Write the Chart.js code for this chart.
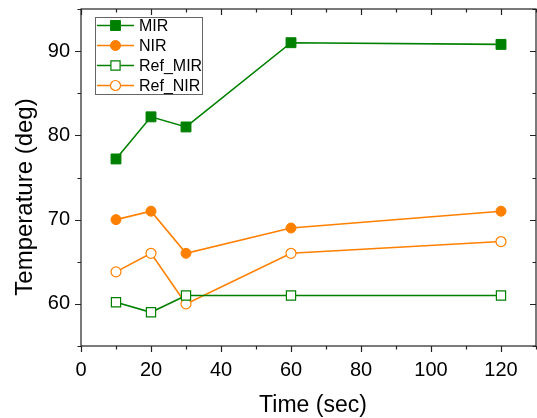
<!doctype html>
<html><head><meta charset="utf-8"/>
<script src="https://cdn.jsdelivr.net/npm/chart.js@4"></script>
<style>
  html,body{margin:0;padding:0;background:#fff;}
  #wrap{width:537px;height:418px;position:relative;}
</style></head><body><div id="wrap"><canvas id="c" width="537" height="418"></canvas></div>
<script>
// values
const times = [10, 20, 30, 60, 120];
const mir = [77.2, 82.2, 81.0, 91.0, 90.8];
const nir = [70.0, 71.0, 66.0, 69.0, 71.0];
const refMir = [60.2, 59.0, 61.0, 61.0, 61.0];
const refNir = [63.8, 66.0, 60.0, 66.0, 67.4];
const xTickLabels = [0, 20, 40, 60, 80, 100, 120];
const yTickLabels = [60, 70, 80, 90];

const GREEN = '#008000', ORANGE = '#ff8000';
const FONT = '"Liberation Sans", Arial, Helvetica, sans-serif';

const pts = (ys) => times.map((t, i) => ({ x: t, y: ys[i] }));

const series = [
  { label: 'MIR', data: pts(mir), borderColor: GREEN, backgroundColor: GREEN, pointStyle: 'rect', pointRadius: 7, pointBorderWidth: 1, pointBackgroundColor: GREEN },
  { label: 'NIR', data: pts(nir), borderColor: ORANGE, backgroundColor: ORANGE, pointStyle: 'circle', pointRadius: 5, pointBorderWidth: 1, pointBackgroundColor: ORANGE },
  { label: 'Ref_MIR', data: pts(refMir), borderColor: GREEN, backgroundColor: '#fff', pointStyle: 'rect', pointRadius: 6.5, pointBorderWidth: 1.2, pointBackgroundColor: '#fff' },
  { label: 'Ref_NIR', data: pts(refNir), borderColor: ORANGE, backgroundColor: '#fff', pointStyle: 'circle', pointRadius: 5, pointBorderWidth: 1.2, pointBackgroundColor: '#fff' },
].map((d) => Object.assign({ borderWidth: 1.6, showLine: true, tension: 0, pointHoverRadius: d.pointRadius }, d));

/* frame ticks (outward on left/bottom, mirrored inward on top/right), axis titles, legend */
const decor = {
  id: 'decor',
  afterDraw(chart) {
    const { ctx, chartArea: a, scales: { x, y } } = chart;
    ctx.save();
    ctx.strokeStyle = '#222';
    ctx.lineWidth = 1.2;
    ctx.strokeRect(a.left, a.top, a.right - a.left, a.bottom - a.top);
    ctx.beginPath();
    for (let v = 0; v <= 130; v += 10) {
      const px = Math.round(x.getPixelForValue(v)) + 0.5;
      const len = v % 20 === 0 ? 6 : 3.5;
      ctx.moveTo(px, a.bottom); ctx.lineTo(px, a.bottom + len);
      ctx.moveTo(px, a.top); ctx.lineTo(px, a.top + len);
    }
    for (let v = 55; v <= 95; v += 5) {
      const py = Math.round(y.getPixelForValue(v)) + 0.5;
      const len = v % 10 === 0 ? 6 : 3.5;
      ctx.moveTo(a.left, py); ctx.lineTo(a.left - len, py);
      ctx.moveTo(a.right, py); ctx.lineTo(a.right - len, py);
    }
    ctx.stroke();

    // axis titles
    ctx.fillStyle = '#000';
    ctx.font = '23px ' + FONT;
    ctx.textAlign = 'center';
    ctx.textBaseline = 'alphabetic';
    ctx.fillText('Time (sec)', 313, 412);
    ctx.font = '24px ' + FONT;
    ctx.translate(32, 197);
    ctx.rotate(-Math.PI / 2);
    ctx.fillText('Temperature (deg)', 0, 0);
    ctx.restore();

    // legend
    ctx.save();
    ctx.fillStyle = '#fff';
    ctx.fillRect(95, 17, 107, 77);
    ctx.strokeStyle = '#666';
    ctx.lineWidth = 1;
    ctx.strokeRect(95.5, 17.5, 107, 77);
    ctx.font = '16px ' + FONT;
    ctx.textBaseline = 'middle';
    ctx.textAlign = 'left';
    chart.data.datasets.forEach((d, i) => {
      const cy = 25.5 + i * 20;
      ctx.strokeStyle = d.borderColor;
      ctx.lineWidth = d.borderWidth;
      ctx.beginPath(); ctx.moveTo(97, cy); ctx.lineTo(134, cy); ctx.stroke();
      ctx.fillStyle = d.pointBackgroundColor;
      ctx.lineWidth = d.pointBorderWidth;
      Chart.helpers.drawPoint(ctx, { pointStyle: d.pointStyle, radius: d.pointRadius, borderWidth: d.pointBorderWidth, rotation: 0 }, 115.5, cy);
      ctx.fillStyle = '#000';
      ctx.fillText(d.label, 139, cy + 1);
    });
    ctx.restore();
  }
};

new Chart(document.getElementById('c'), {
  type: 'line',
  data: { datasets: series },
  plugins: [decor],
  options: {
    responsive: false,
    animation: false,
    layout: { autoPadding: false, padding: { top: 9, right: 1, left: 0, bottom: 0 } },
    plugins: { legend: { display: false }, tooltip: { enabled: false } },
    scales: {
      x: {
        type: 'linear', min: 0, max: 130,
        grid: { display: false },
        border: { display: false },
        afterFit: (s) => { s.height = 72; s.paddingLeft = 0; s.paddingRight = 0; },
        ticks: {
          stepSize: 10, autoSkip: false, maxRotation: 0, padding: 4, color: '#000',
          font: { family: FONT, size: 20 },
          callback: (v) => (xTickLabels.includes(v) ? String(v) : ''),
        },
      },
      y: {
        type: 'linear', min: 55, max: 95,
        grid: { display: false },
        border: { display: false },
        afterFit: (s) => { s.width = 81; s.paddingTop = 0; s.paddingBottom = 0; },
        ticks: {
          stepSize: 5, autoSkip: false, padding: 3, color: '#000',
          font: { family: FONT, size: 20 },
          callback: (v) => (yTickLabels.includes(v) ? String(v) : ''),
        },
      },
    },
  },
});
</script></div></body></html>
